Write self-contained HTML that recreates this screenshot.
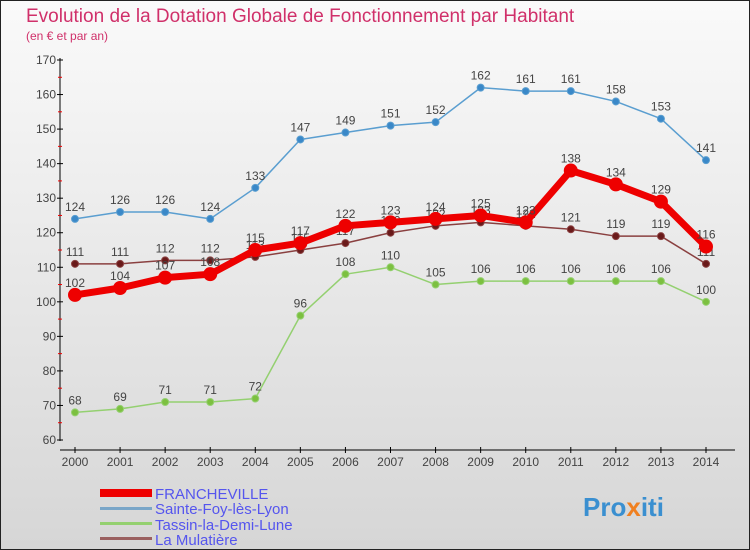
<!DOCTYPE html>
<html><head><meta charset="utf-8"><style>
body{margin:0;}
svg{display:block;font-family:"Liberation Sans",sans-serif;}
</style></head><body>
<svg id="c" width="750" height="550" xmlns="http://www.w3.org/2000/svg">
<defs><linearGradient id="bg" x1="0" y1="0" x2="0" y2="1"><stop offset="0" stop-color="#fafafa"/><stop offset="1" stop-color="#d6d6d6"/></linearGradient></defs>
<rect x="0.5" y="0.5" width="749" height="549" fill="url(#bg)" stroke="#222"/>
<text x="26" y="22" font-size="19" fill="#d0306a">Evolution de la Dotation Globale de Fonctionnement par Habitant</text>
<text x="26" y="40" font-size="12" fill="#d0306a">(en € et par an)</text>
<g id="axes"></g><g id="series"></g>
<g>
<rect x="100" y="489" width="52" height="8" fill="#e00"/>
<text x="155" y="499" font-size="15" fill="#5555ee">FRANCHEVILLE</text>
<rect x="100" y="507" width="52" height="3" fill="#7aa6c8"/>
<text x="155" y="514" font-size="15" fill="#5555ee">Sainte-Foy-lès-Lyon</text>
<rect x="100" y="522" width="52" height="3" fill="#94d070"/>
<text x="155" y="530" font-size="15" fill="#5555ee">Tassin-la-Demi-Lune</text>
<rect x="100" y="537" width="52" height="3" fill="#9a6060"/>
<text x="155" y="545" font-size="15" fill="#5555ee">La Mulatière</text>
</g>
<g><text x="583" y="516" font-size="26" font-weight="bold"><tspan fill="#3a8fd0">Pro</tspan><tspan fill="#f08020">x</tspan><tspan fill="#3a8fd0">iti</tspan></text></g>
</svg>
<script>
const years=[2000,2001,2002,2003,2004,2005,2006,2007,2008,2009,2010,2011,2012,2013,2014];
const yTicks=[60,70,80,90,100,110,120,130,140,150,160,170];
const francheville=[102,104,107,108,115,117,122,123,124,125,123,138,134,129,116];
const sainteFoy=[124,126,126,124,133,147,149,151,152,162,161,161,158,153,141];
const tassin=[68,69,71,71,72,96,108,110,105,106,106,106,106,106,100];
const mulatiere=[111,111,112,112,113,115,117,120,122,123,122,121,119,119,111];
const NS="http://www.w3.org/2000/svg";
const X=i=>75+i*(706-75)/14;
const Y=v=>440-(v-60)*380/110;
function mk(t,a,p){const e=document.createElementNS(NS,t);for(const k in a)e.setAttribute(k,a[k]);p.appendChild(e);return e;}
const ax=document.getElementById('axes');
let yl=mk('line',{x1:60,y1:58,x2:60,y2:441,stroke:'#000'},ax);


yTicks.forEach((v,i)=>{
  mk('line',{x1:57,x2:63,y1:Y(v),y2:Y(v),stroke:'#000'},ax);
  if(i<yTicks.length-1)mk('line',{x1:58,x2:62,y1:Y(v+5),y2:Y(v+5),stroke:'#e00'},ax);
  const t=mk('text',{x:56,y:Y(v)+4,'font-size':12,'text-anchor':'end',fill:'#444'},ax);t.textContent=v;
  
  
});
let xl=mk('line',{x1:60,y1:450,x2:735,y2:450,stroke:'#000'},ax);


years.forEach((y,i)=>{
  mk('line',{x1:X(i),x2:X(i),y1:447,y2:453,stroke:'#000'},ax);
  const t=mk('text',{x:X(i),y:466,'font-size':12,'text-anchor':'middle',fill:'#444'},ax);t.textContent=y;
  
  
});
const sg=document.getElementById('series');
function series(name,data,color,dot,w,r){
  const g=mk('g',{},sg);
  
  
  const l=mk('polyline',{points:data.map((v,i)=>X(i)+','+Y(v)).join(' '),fill:'none',stroke:color,'stroke-width':w,'stroke-linejoin':'round'},g);
  
  
  data.forEach((v,i)=>{
    const c=mk('circle',{cx:X(i),cy:Y(v),r:r,fill:dot,stroke:color,'stroke-width':1},g);
    
    
    const t=mk('text',{x:X(i),y:Y(v)-8,'font-size':12,'text-anchor':'middle',fill:'#444'},g);t.textContent=v;
    
    
  });
}
series('tassin',tassin,'#94d070','#7cc040',1.5,3.5);
series('sainte-foy',sainteFoy,'#5a9ed0','#3a88c8',1.5,3.5);
series('la-mulatiere',mulatiere,'#8a4040','#6a1a1a',1.5,3.5);
series('francheville',francheville,'#e00','#e00',7,6.5);
</script>
</body></html>
